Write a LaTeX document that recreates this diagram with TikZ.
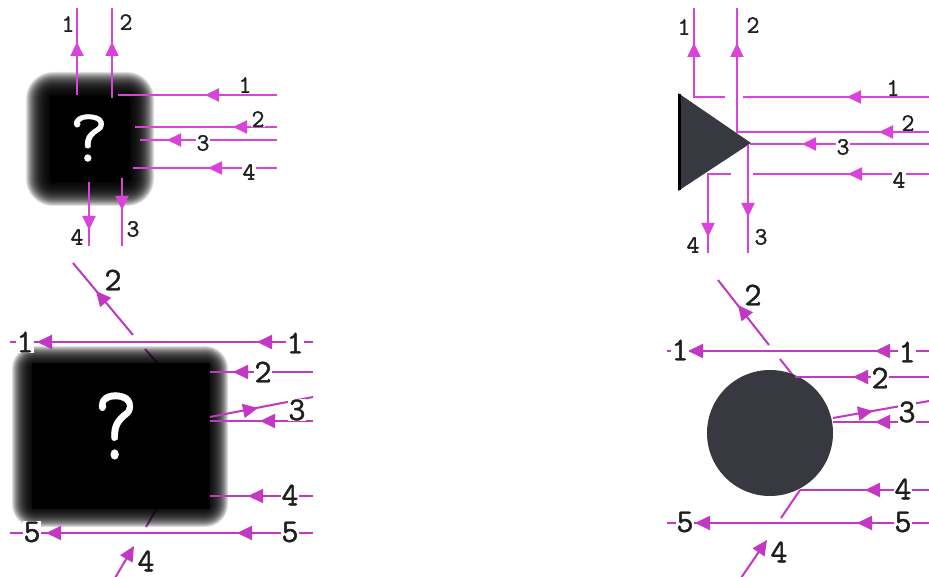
\documentclass[tikz,border=0pt]{standalone}
\usepackage{fontspec}
\newfontfamily\lblfont{Latin Modern Mono}[FakeBold=1.3]
\newfontfamily\qfont{Latin Modern Mono}[FakeBold=0.5]
\usetikzlibrary{arrows.meta,calc}
\definecolor{magA}{RGB}{218,66,218}
\definecolor{magB}{RGB}{194,56,194}
\definecolor{shapecol}{RGB}{56,56,64}
\definecolor{txt}{RGB}{30,30,30}
\tikzset{
  wireA/.style={draw=magA, line width=2pt},
  wireB/.style={draw=magB, line width=2pt},
  tipa/.style={draw=magA, line width=2pt, -{Triangle[length=14pt,width=13pt]}, color=magA},
  tipb/.style={draw=magB, line width=2pt, -{Triangle[length=15pt,width=14pt]}, color=magB},
  lblA/.style={font=\lblfont\fontsize{25}{25}\selectfont, text=txt, inner sep=0.6pt},
  lblB/.style={font=\lblfont\fontsize{33}{33}\selectfont, text=txt, inner sep=0.6pt},
  onwire/.style={fill=white},
  qmark/.style={text=white, inner sep=0pt}
}
\newcommand\tipA[2]{\draw[tipa] ($(#1)+(#2)$) -- (#1);}
\newcommand\tipB[2]{\draw[tipb] ($(#1)+(#2)$) -- (#1);}
\newcommand\blurbox[6]{%
  \foreach \i in {0,...,#5}{\fill[black,opacity=#6,rounded corners=\i pt+3pt] (#1-\i,#2-\i) rectangle (#3+\i,#4+\i);}%
  \fill[black,rounded corners=3pt] (#1,#2) rectangle (#3,#4);}
\begin{document}
\begin{tikzpicture}[x=1pt,y=-1pt]
\useasboundingbox[fill=white] (0,0) rectangle (929,577);

%% ---------- top left ----------
\blurbox{50}{96}{130}{182}{24}{0.12}
\node[qmark, font=\qfont\fontsize{76}{76}\selectfont] (qa) at (89,138) {?};
\draw[wireA] (77,8) -- (77,95);
\draw[wireA] (112,8) -- (112,98);
\draw[wireA] (118,95) -- (277,95);
\draw[wireA] (135,127) -- (277,127);
\draw[wireA] (140,140) -- (277,140);
\draw[wireA] (133,168) -- (277,168);
\draw[wireA] (89,182) -- (89,246);
\draw[wireA] (122,178) -- (122,246);
\tipA{77,42}{0,14}
\tipA{112,42}{0,14}
\tipA{205,95}{14,0}
\tipA{233,127}{14,0}
\tipA{167,140}{14,0}
\tipA{208,168}{14,0}
\tipA{89,230}{0,-14}
\tipA{122,210}{0,-14}
\node[lblA] (ta1) at (68,24) {1};
\node[lblA] (ta2) at (126,22) {2};
\node[lblA] (ta3) at (245,85) {1};
\node[lblA, onwire] (ta4) at (258,119) {2};
\node[lblA, onwire] (ta5) at (203,143) {3};
\node[lblA, onwire] (ta6) at (249,172) {4};
\node[lblA] (ta7) at (77,237) {4};
\node[lblA] (ta8) at (133,229) {3};

%% ---------- top right ----------
\fill[shapecol] (678,93) -- (678,191) -- (751,143) -- cycle;
\draw[black, line width=3pt] (679.5,94) -- (679.5,190);
\draw[wireA] (694,8) -- (694,97) -- (725,97);
\draw[wireA] (743,97) -- (929,97);
\draw[wireA] (737,8) -- (737,132) -- (929,132);
\draw[wireA] (750,144) -- (929,144);
\draw[wireA] (708,253) -- (708,174) -- (731,174);
\draw[wireA] (753,174) -- (929,174);
\draw[wireA] (748,145) -- (748,253);
\tipA{694,43}{0,14}
\tipA{737,43}{0,14}
\tipA{847,97}{14,0}
\tipA{879,132}{14,0}
\tipA{802,144}{14,0}
\tipA{848,174}{14,0}
\tipA{748,217}{0,-14}
\tipA{708,237}{0,-14}
\node[lblA] (tb1) at (684,27) {1};
\node[lblA] (tb2) at (753,25) {2};
\node[lblA] (tb3) at (893,88) {1};
\node[lblA, onwire] (tb4) at (908,123) {2};
\node[lblA, onwire] (tb5) at (843,147) {3};
\node[lblA, onwire] (tb6) at (899,180) {4};
\node[lblA] (tb7) at (761,237) {3};
\node[lblA] (tb8) at (693,245) {4};

%% ---------- bottom left ----------
\draw[wireB] (145,349) -- (158,364);
\draw[wireB] (160,503) -- (146,527);
\blurbox{32}{366}{208}{507}{20}{0.13}
\fill[black] (32,363) rectangle (210,509);
\node[qmark] (qb) at (116,426) {\scalebox{0.8}[1]{\qfont\fontsize{108}{108}\selectfont ?}};
\draw[wireB] (73,263) -- (133,335);
\draw[wireB] (10,342) -- (313,342);
\draw[wireB] (210,372) -- (313,372);
\draw[wireB] (210,417) -- (313,397);
\draw[wireB] (210,421) -- (313,421);
\draw[wireB] (210,496) -- (313,496);
\draw[wireB] (10,533) -- (313,533);
\tipB{96,291}{9,10.7}
\tipB{37,342}{15,0}
\tipB{257,342}{15,0}
\tipB{233,372}{15,0}
\tipB{258,408}{-14.7,2.9}
\tipB{260,421}{15,0}
\tipB{248,496}{15,0}
\tipB{46,533}{15,0}
\tipB{237,533}{15,0}
\draw[tipb] (115,578) -- (134,546);
\node[lblB, onwire] (ba1) at (25,342) {1};
\node[lblB, onwire] (ba2) at (295,343) {1};
\node[lblB] (ba3) at (113,280) {2};
\node[lblB, onwire] (ba4) at (263,372) {2};
\node[lblB, onwire] (ba5) at (297,410) {3};
\node[lblB, onwire] (ba6) at (290,495) {4};
\node[lblB, onwire] (ba7) at (32,532) {5};
\node[lblB, onwire] (ba8) at (290,532) {5};
\node[lblB, inner sep=0pt] (ba9) at (146,561) {4};

%% ---------- bottom right ----------
\draw[wireB] (718,280) -- (769,345);
\draw[wireB] (780,359) -- (795,378);
\draw[wireB] (800,490) -- (781,518);
\node[circle, fill=shapecol, minimum size=126pt, inner sep=0pt] (circ) at (770,433) {};
\draw[wireB] (667,351) -- (929,351);
\draw[wireB] (795,377) -- (929,377);
\draw[wireB] (833,418) -- (929,401);
\draw[wireB] (833,422) -- (929,422);
\draw[wireB] (800,490) -- (929,490);
\draw[wireB] (667,523) -- (929,523);
\tipB{738,305}{9.3,11.8}
\tipB{688,351}{15,0}
\tipB{875,351}{15,0}
\tipB{853,377}{15,0}
\tipB{873,411}{-14.8,2.6}
\tipB{875,422}{15,0}
\tipB{865,490}{15,0}
\tipB{695,523}{15,0}
\tipB{857,523}{15,0}
\draw[tipb] (741,578) -- (767,540);
\node[lblB, onwire] (bb1) at (680,350) {1};
\node[lblB, onwire] (bb2) at (907,352) {1};
\node[lblB] (bb3) at (753,295) {2};
\node[lblB, onwire] (bb4) at (880,378) {2};
\node[lblB, onwire] (bb5) at (907,412) {3};
\node[lblB, onwire] (bb6) at (903,489) {4};
\node[lblB, onwire] (bb7) at (685,522) {5};
\node[lblB, onwire] (bb8) at (903,522) {5};
\node[lblB, inner sep=0pt] (bb9) at (779,552) {4};
\end{tikzpicture}
\end{document}
